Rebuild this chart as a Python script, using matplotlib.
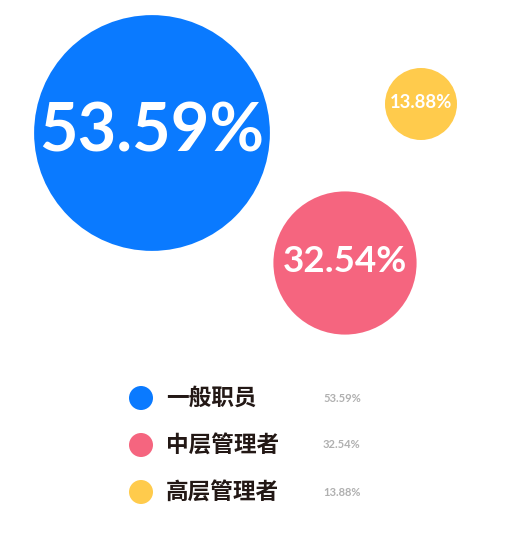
import matplotlib
matplotlib.use("Agg")
import matplotlib.pyplot as plt
from matplotlib.patches import Circle

# data
categories = ['一般职员', '中层管理者', '高层管理者']
values = [53.59, 32.54, 13.88]
colors = ['#0A7AFF', '#F5657F', '#FFCB4C']

# layout (pixels, y down)
centers = [(152, 133), (345, 263), (421, 104)]
px_per_unit = 2.2
min_radius = 36
legend_x, legend_y0, legend_step = 141, 398, 47

W, H = 525, 540
fig = plt.figure(figsize=(W / 100, H / 100), dpi=100)
ax = fig.add_axes([0, 0, 1, 1])
ax.set_xlim(0, W)
ax.set_ylim(H, 0)
ax.set_aspect('equal')
ax.axis('off')

num_font = ['Lato', 'DejaVu Sans']
cjk_font = ['Noto Sans CJK SC', 'DejaVu Sans']

for (cx, cy), v, c in zip(centers, values, colors):
    r = max(min_radius, v * px_per_unit)
    ax.add_patch(Circle((cx, cy), r, color=c, lw=0))
    fs = 48 if r > 100 else r * 0.37  # text scales with bubble
    ax.text(cx, cy - 1, f'{v:.2f}%', ha='center', va='center', color='white',
            fontsize=fs, weight='bold', family=num_font)

# legend
for i, (name, v, c) in enumerate(zip(categories, values, colors)):
    y = legend_y0 + legend_step * i
    ax.add_patch(Circle((legend_x, y), 12, color=c, lw=0))
    ax.text(legend_x + 25, y, name, ha='left', va='center', color='#231815',
            fontsize=16.3, weight='bold', family=cjk_font)
    ax.text(legend_x + 182, y, f'{v:.2f}%', ha='left', va='center', color='#B0B0B0',
            fontsize=8, weight='bold', family=num_font)

fig.savefig('out.png', dpi=100, facecolor='white')
